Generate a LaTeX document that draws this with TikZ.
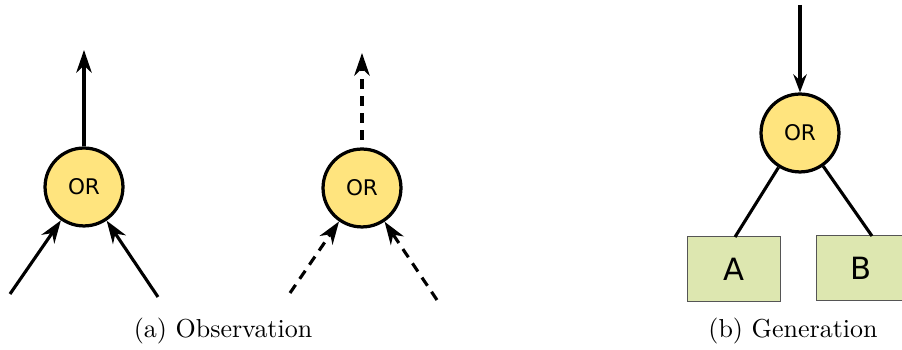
\documentclass[tikz,border=0pt]{standalone}
\usepackage{fontspec}
\newfontfamily\orfont{DejaVu Sans}
\usetikzlibrary{arrows.meta}
\definecolor{orfill}{HTML}{FFE47E}
\definecolor{boxfill}{HTML}{DDE7B0}
\definecolor{boxline}{HTML}{555555}
\tikzset{
  ornode/.style={circle, draw=black, line width=1.25pt, fill=orfill, minimum size=30pt, inner sep=0pt, font=\orfont\fontsize{8.3}{10}\selectfont},
  leafbox/.style={rectangle, draw=boxline, line width=0.4pt, fill=boxfill, minimum width=36pt, minimum height=25pt, inner sep=0pt, font=\orfont\fontsize{11.8}{14}\selectfont},
  conn/.style={line width=1.2pt, -{Stealth[length=8.8pt, width=6pt, inset=2.8pt]}},
  plain/.style={line width=1.2pt},
  dashconn/.style={conn, dash pattern=on 3.8pt off 2.8pt},
  caption/.style={font=\fontsize{10}{12}\selectfont, inner sep=0pt}
}
\begin{document}
\begin{tikzpicture}[x=0.385pt, y=-0.385pt]
\useasboundingbox (0,0) rectangle (902,350);
% (a) solid
\node[ornode] (or1) at (84,187) {OR};
\coordinate (t1) at (84,50);
\coordinate (l1) at (10,294);
\coordinate (r1) at (158,297);
\draw[conn] (or1.north) -- (t1);
\draw[conn] (l1) -- (or1);
\draw[conn] (r1) -- (or1);
% (a) dashed
\node[ornode] (or2) at (362,188) {OR};
\coordinate (t2) at (362,53);
\coordinate (s2) at (362,140);
\coordinate (l2) at (290,293);
\coordinate (r2) at (437,300);
\draw[dashconn] (s2) -- (t2);
\draw[dashconn] (l2) -- (or2);
\draw[dashconn] (r2) -- (or2);
% (b)
\node[ornode] (or3) at (800,133) {OR};
\coordinate (top3) at (800,5);
\draw[conn, -{Stealth[length=7pt, width=5.2pt, inset=2.4pt]}] (top3) -- (or3.north);
\node[leafbox] (A) at (734,269) {A};
\node[leafbox, minimum width=34pt] (B) at (861,268) {B};
\draw[plain] (or3) -- (735,237);
\draw[plain] (or3) -- (872,236);
% captions
\node[caption] (capa) at (223,331) {(a) Observation};
\node[caption] (capb) at (793,331) {(b) Generation};
\end{tikzpicture}
\end{document}
